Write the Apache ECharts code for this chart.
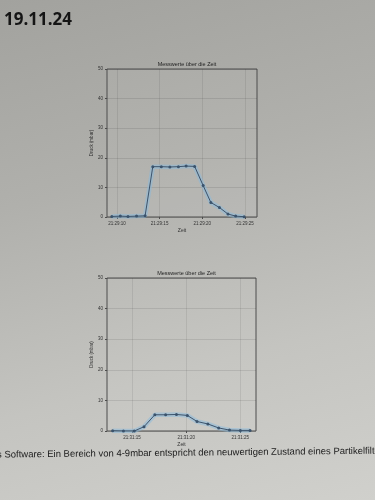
<!DOCTYPE html>
<html>
<head>
<meta charset="utf-8">
<script src="https://cdn.jsdelivr.net/npm/echarts@6/dist/echarts.min.js"></script>
<style>
html,body{margin:0;padding:0;}
body{width:375px;height:500px;overflow:hidden;
background:linear-gradient(165deg,#a2a29e 0%,#b0b0ac 35%,#c4c4c0 70%,#d0d0cc 100%);}
#c{width:375px;height:500px;}
</style>
</head>
<body>
<div id="c"></div>
<script>
const dateText = '19.11.24';
const chartTitle = 'Messwerte über die Zeit';
const xName = 'Zeit';
const yName = 'Druck (mbar)';
const footText = 's Software: Ein Bereich von 4-9mbar entspricht den neuwertigen Zustand eines Partikelfilters';

const topTimes = ['21:29:09.4','21:29:10.4','21:29:11.3','21:29:12.3','21:29:13.3','21:29:14.2','21:29:15.2','21:29:16.2','21:29:17.2','21:29:18.1','21:29:19.1','21:29:20.1','21:29:21.0','21:29:22.0','21:29:23.0','21:29:23.9','21:29:24.9'];
const topValues = [0.2, 0.3, 0.2, 0.3, 0.4, 17.0, 17.0, 16.9, 17.0, 17.2, 17.1, 10.6, 4.9, 3.2, 1.0, 0.3, 0.1];
const topTicks = ['21:29:10','21:29:15','21:29:20','21:29:25'];

const botTimes = ['21:31:13.2','21:31:14.2','21:31:15.2','21:31:16.1','21:31:17.1','21:31:18.1','21:31:19.1','21:31:20.1','21:31:21.0','21:31:22.0','21:31:23.0','21:31:24.0','21:31:25.0','21:31:25.9'];
const botValues = [0.1, 0.0, 0.0, 1.4, 5.3, 5.3, 5.4, 5.1, 3.1, 2.3, 1.0, 0.3, 0.2, 0.2];
const botTicks = ['21:31:15','21:31:20','21:31:25'];

const yMin = 0, yMax = 50, yStep = 10;

function toSec(s){const p=s.split(':');return (+p[0])*3600+(+p[1])*60+parseFloat(p[2]);}
function fmt(v){v=Math.round(v);const h=Math.floor(v/3600),m=Math.floor(v%3600/60),s=v%60;
  const z=n=>String(n).padStart(2,'0');return z(h)+':'+z(m)+':'+z(s);}

const lineColor = '#3b536c';
const bandColor = 'rgba(135,185,222,0.5)';
const frame = '#4c4c4c';
const grids = [
  {left:107, top:69, width:150, height:148},
  {left:107, top:278, width:149, height:153}
];
const sets = [
  {times:topTimes, values:topValues, ticks:topTicks, padL:0.56, padR:1.5},
  {times:botTimes, values:botValues, ticks:botTicks, padL:0.52, padR:0.55}
];

const xAxes=[], yAxes=[], series=[], titles=[];
sets.forEach((d,i)=>{
  const xs = d.times.map(toSec);
  const data = xs.map((x,k)=>[x,d.values[k]]);
  const tickVals = d.ticks.map(toSec);
  xAxes.push({type:'value', gridIndex:i, min:xs[0]-d.padL, max:xs[xs.length-1]+d.padR,
    name:xName, nameLocation:'middle', nameGap:11, nameTextStyle:{fontSize:5,color:'#333'},
    axisLine:{show:false},
    axisTick:{show:true, customValues:tickVals, length:2, lineStyle:{color:frame}},
    axisLabel:{customValues:tickVals, formatter:v=>fmt(v), fontSize:4.5, color:'#333', margin:4},
    splitLine:{show:true, lineStyle:{color:'rgba(0,0,0,0.10)', width:0.8}}});
  yAxes.push({type:'value', gridIndex:i, min:yMin, max:yMax, interval:yStep,
    name:yName, nameLocation:'middle', nameGap:13, nameTextStyle:{fontSize:4.5,color:'#333'},
    axisLine:{show:false}, axisTick:{show:true,length:2,lineStyle:{color:frame}},
    axisLabel:{fontSize:4.5, color:'#333', margin:4},
    splitLine:{show:true, lineStyle:{color:'rgba(0,0,0,0.12)', width:0.8}}});
  series.push({type:'line', xAxisIndex:i, yAxisIndex:i, data:data, symbol:'none', silent:true,
    lineStyle:{color:bandColor, width:4.5}, z:1});
  series.push({type:'line', xAxisIndex:i, yAxisIndex:i, data:data, symbol:'circle', symbolSize:3,
    itemStyle:{color:lineColor}, lineStyle:{color:lineColor, width:1}, z:3});
  titles.push({text:chartTitle, left:grids[i].left+grids[i].width/2, textAlign:'center',
    top:grids[i].top-13, textStyle:{fontSize:5.5, fontWeight:'normal', color:'#222'}});
});

const chart = echarts.init(document.getElementById('c'), null, {renderer:'canvas'});
chart.setOption({
  backgroundColor:'transparent',
  animation:false,
  title:titles,
  grid:grids.map(g=>Object.assign({show:true, borderColor:frame, borderWidth:1, backgroundColor:'rgba(255,255,255,0.04)'},g)),
  xAxis:xAxes, yAxis:yAxes, series:series,
  graphic:[
    {type:'text', left:4, top:12, style:{text:dateText, font:'bold 17px "Open Sans", sans-serif', fill:'#151515'}},
    {type:'text', left:-3, top:446, rotation:0.01, style:{text:footText, font:'9.5px "Liberation Sans", sans-serif', fill:'#1c1c1c'}}
  ]
});
</script>
</body>
</html>
